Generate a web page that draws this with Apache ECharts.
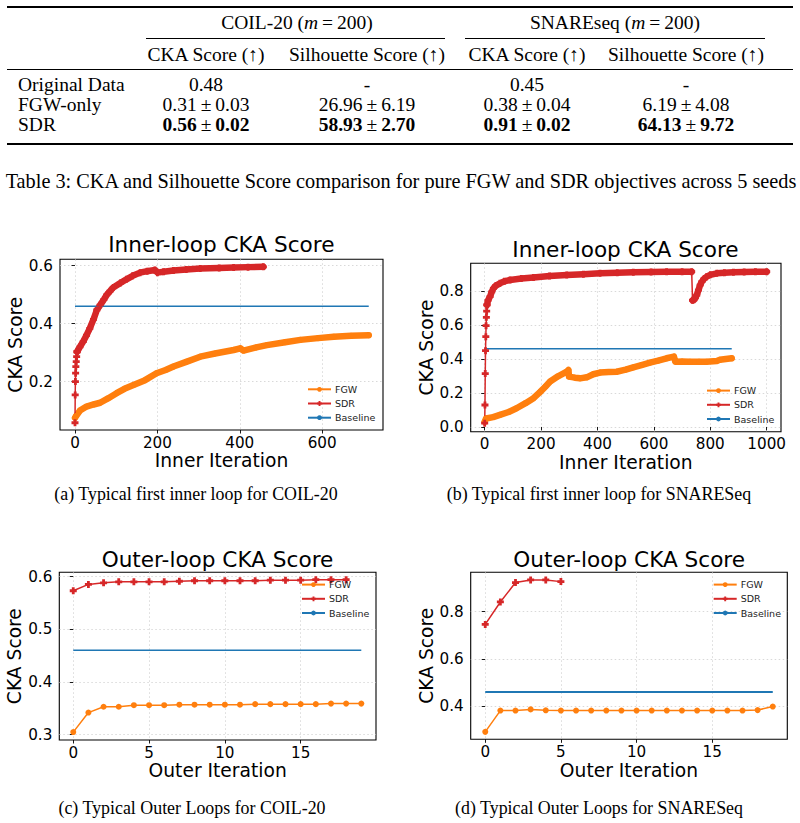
<!DOCTYPE html>
<html>
<head>
<meta charset="utf-8">
<script src="https://cdn.jsdelivr.net/npm/echarts@6/dist/echarts.min.js"></script>
<style>
body { margin: 0; background: #fff; }
#main { position: absolute; left: 0; top: 0; width: 800px; height: 823px; }
.t { position: absolute; font-family: "Liberation Serif", serif; font-size: 19.5px; color: #000;
     white-space: nowrap; line-height: 1; transform: translate(-50%, -50%); }
.l { position: absolute; font-family: "Liberation Serif", serif; font-size: 19.5px; color: #000;
     white-space: nowrap; line-height: 1; transform: translate(0, -50%); }
.pm { padding: 0 4px; font-weight: normal; }
.rule { position: absolute; background: #000; }
</style>
</head>
<body>
<div id="main"></div>
<div id="tbl"></div>
<script>
// ---- table 3 values ----
var rowNames = ['Original Data', 'FGW-only', 'SDR'];
var coilCkaMean = [0.48, 0.31, 0.56];
var coilCkaStd = [null, 0.03, 0.02];
var coilSilMean = [null, 26.96, 58.93];
var coilSilStd = [null, 6.19, 2.70];
var snareCkaMean = [0.45, 0.38, 0.91];
var snareCkaStd = [null, 0.04, 0.02];
var snareSilMean = [null, 6.19, 64.13];
var snareSilStd = [null, 4.08, 9.72];

// ---- (a) COIL-20 inner loop ----
var aFgwX = [0, 3, 12, 28, 45, 61, 80, 101, 120, 142, 170, 198, 220, 239, 270, 304, 340, 385, 401, 409, 440, 466, 510, 547, 590, 628, 670, 713];
var aFgwY = [0.075, 0.082, 0.100, 0.114, 0.121, 0.127, 0.142, 0.160, 0.175, 0.188, 0.205, 0.229, 0.240, 0.252, 0.268, 0.286, 0.297, 0.309, 0.315, 0.307, 0.318, 0.326, 0.336, 0.344, 0.350, 0.355, 0.358, 0.360];
var aSdrStartX = [0, 0.5, 1, 1.5, 2, 3, 4, 5];
var aSdrStartY = [0.058, 0.154, 0.200, 0.229, 0.252, 0.269, 0.286, 0.303];
var aSdrX = [5, 12, 20, 28, 36, 45, 53, 61, 70, 77, 85, 93, 110, 125, 140, 158, 175, 194, 200, 215, 239, 270, 304, 350, 385, 420, 457];
var aSdrY = [0.303, 0.320, 0.338, 0.360, 0.384, 0.415, 0.447, 0.464, 0.483, 0.499, 0.512, 0.525, 0.540, 0.553, 0.565, 0.576, 0.581, 0.585, 0.576, 0.579, 0.583, 0.587, 0.590, 0.592, 0.594, 0.595, 0.596];
var aBaseX = [0, 713];
var aBaseY = [0.46, 0.46];

// ---- (b) SNAREseq inner loop ----
var bFgwX = [0, 5, 30, 54, 85, 113, 145, 173, 196, 215, 232, 260, 291, 297, 299, 320, 338, 362, 385, 409, 440, 468, 500, 527, 556, 586, 615, 645, 671, 676, 700, 728, 760, 787, 823, 834, 855, 876];
var bFgwY = [0.030, 0.050, 0.058, 0.071, 0.088, 0.110, 0.140, 0.169, 0.205, 0.237, 0.267, 0.298, 0.325, 0.335, 0.296, 0.290, 0.286, 0.292, 0.310, 0.320, 0.323, 0.325, 0.337, 0.351, 0.364, 0.378, 0.390, 0.404, 0.414, 0.384, 0.385, 0.384, 0.384, 0.384, 0.388, 0.395, 0.400, 0.404];
var bSdrStartX = [0, 1, 2, 3, 4, 5, 6, 7, 8];
var bSdrStartY = [0.022, 0.129, 0.314, 0.449, 0.531, 0.596, 0.645, 0.682, 0.718];
var bSdrX = [8, 12, 19, 25, 31, 40, 54, 70, 90, 130, 173, 230, 291, 350, 409, 470, 527, 590, 645, 700, 734];
var bSdrY = [0.718, 0.745, 0.767, 0.795, 0.816, 0.832, 0.845, 0.857, 0.865, 0.873, 0.880, 0.888, 0.894, 0.899, 0.904, 0.907, 0.910, 0.912, 0.914, 0.914, 0.914];
var bSdrDropX = [734, 737];
var bSdrDropY = [0.914, 0.745];
var bSdrX2 = [737, 742, 747, 752, 758, 764, 770, 778, 787, 800, 823, 850, 882, 920, 960, 1000];
var bSdrY2 = [0.745, 0.748, 0.760, 0.776, 0.805, 0.835, 0.855, 0.872, 0.884, 0.895, 0.904, 0.908, 0.910, 0.912, 0.913, 0.914];
var bBaseX = [0, 876];
var bBaseY = [0.46, 0.46];

// ---- (c) COIL-20 outer loop ----
var cFgwX = [0, 1, 2, 3, 4, 5, 6, 7, 8, 9, 10, 11, 12, 13, 14, 15, 16, 17, 18, 19];
var cFgwY = [0.305, 0.342, 0.353, 0.353, 0.356, 0.356, 0.356, 0.357, 0.357, 0.357, 0.357, 0.357, 0.358, 0.358, 0.358, 0.358, 0.358, 0.359, 0.359, 0.359];
var cSdrX = [0, 1, 2, 3, 4, 5, 6, 7, 8, 9, 10, 11, 12, 13, 14, 15, 16, 17, 18];
var cSdrY = [0.573, 0.585, 0.588, 0.590, 0.590, 0.590, 0.590, 0.591, 0.592, 0.592, 0.592, 0.592, 0.592, 0.593, 0.593, 0.593, 0.594, 0.594, 0.594];
var cBaseX = [0, 19];
var cBaseY = [0.46, 0.46];

// ---- (d) SNAREseq outer loop ----
var dFgwX = [0, 1, 2, 3, 4, 5, 6, 7, 8, 9, 10, 11, 12, 13, 14, 15, 16, 17, 18, 19];
var dFgwY = [0.292, 0.382, 0.382, 0.387, 0.383, 0.382, 0.382, 0.382, 0.382, 0.382, 0.382, 0.382, 0.382, 0.382, 0.382, 0.382, 0.382, 0.382, 0.384, 0.399];
var dSdrX = [0, 1, 2, 3, 4, 5];
var dSdrY = [0.746, 0.841, 0.923, 0.934, 0.934, 0.927];
var dBaseX = [0, 19];
var dBaseY = [0.46, 0.46];

// ---- table (HTML) ----
var tbl = document.getElementById('tbl');
function put(cls, x, y, html, size) {
    var d = document.createElement('div');
    d.className = cls;
    d.style.left = x + 'px';
    d.style.top = y + 'px';
    if (size) d.style.fontSize = size + 'px';
    d.innerHTML = html;
    tbl.appendChild(d);
    return d;
}
function rule(x, y, w, h) {
    var d = document.createElement('div');
    d.className = 'rule';
    d.style.left = x + 'px'; d.style.top = y + 'px';
    d.style.width = w + 'px'; d.style.height = h + 'px';
    tbl.appendChild(d);
}
function cell(mean, std, bold) {
    if (mean === null) return '-';
    var m = mean.toFixed(2), s = std === null ? null : std.toFixed(2);
    if (bold) { m = '<b>' + m + '</b>'; if (s) s = '<b>' + s + '</b>'; }
    return s ? m + '<span class="pm">±</span>' + s : m;
}
rule(7, 6, 786, 1.5);
put('t', 297, 23, 'COIL-20 (<i>m</i><span class="pm">=</span>200)');
put('t', 615, 23, 'SNAREseq (<i>m</i><span class="pm">=</span>200)');
rule(146, 37.5, 299, 0.9);
rule(465, 37.5, 300, 0.9);
var colX = [206, 367, 527, 686];
var heads = ['CKA Score (↑)', 'Silhouette Score (↑)', 'CKA Score (↑)', 'Silhouette Score (↑)'];
heads.forEach(function (h, i) { put('t', colX[i], 55, h); });
rule(7, 68.5, 786, 1);
var rowY = [85, 105, 125];
var cols = [[coilCkaMean, coilCkaStd], [coilSilMean, coilSilStd], [snareCkaMean, snareCkaStd], [snareSilMean, snareSilStd]];
rowNames.forEach(function (r, i) {
    put('l', 18, rowY[i], r);
    cols.forEach(function (c, j) {
        put('t', colX[j], rowY[i], cell(c[0][i], c[1][i], i === 2));
    });
});
rule(7, 143, 786, 1.5);
put('t', 401, 181, 'Table 3: CKA and Silhouette Score comparison for pure FGW and SDR objectives across 5 seeds', 20.3);

// sub-figure captions (the reference text is a bit wider than plain Times, so stretch it)
var caps = [
    ['(a) Typical first inner loop for COIL-20', 196, 493],
    ['(b) Typical first inner loop for SNARESeq', 599, 493],
    ['(c) Typical Outer Loops for COIL-20', 192, 807],
    ['(d) Typical Outer Loops for SNARESeq', 599, 807]
];
var capEls = caps.map(function (c) { return put('t', c[1], c[2], c[0], 19); });
var capScale = 267 / capEls[2].getBoundingClientRect().width;
capEls.forEach(function (d) {
    d.style.transform = 'translate(-50%, -50%) scaleX(' + capScale.toFixed(3) + ')';
});

// ---- charts ----
var FGW_C = '#ff7f0e', SDR_C = '#d62728', BASE_C = '#1f77b4';
var PLUS = 'path://M3,0H7V3H10V7H7V10H3V7H0V3H3Z';
var FONT = 'DejaVu Sans';

function pts(xs, ys) {
    return xs.map(function (x, i) { return [x, ys[i]]; });
}
function thin(name, color, sym, size, k, xs, ys) {
    return {
        type: 'line', name: name, xAxisIndex: k, yAxisIndex: k,
        data: pts(xs, ys), symbol: sym, symbolSize: size, showSymbol: sym !== 'none',
        lineStyle: { width: 1.5, color: color }, itemStyle: { color: color },
        emphasis: { disabled: true }, animation: false
    };
}
function band(name, color, sym, size, k, xs, ys) {
    var s = thin(name, color, sym, size, k, xs, ys);
    s.lineStyle = { width: 6.5, color: color, cap: 'round', join: 'round' };
    return s;
}

var grids = [
    { left: 60, top: 259.3, width: 323, height: 170.7 },
    { left: 470.7, top: 263.3, width: 310.3, height: 168.4 },
    { left: 59.3, top: 572.3, width: 316.7, height: 167.7 },
    { left: 470.7, top: 572.3, width: 316.6, height: 167 }
];
var xRange = [[-36.4, 747.6], [-49.6, 1050.7], [-0.92, 19.97], [-0.96, 19.96]];
var yRange = [[0.033, 0.622], [-0.028, 0.963], [0.29, 0.608], [0.2606, 0.9664]];
var xTicks = [[0, 200, 400, 600], [0, 200, 400, 600, 800, 1000], [0, 5, 10, 15], [0, 5, 10, 15]];
var yTicks = [[0.2, 0.4, 0.6], [0.0, 0.2, 0.4, 0.6, 0.8], [0.3, 0.4, 0.5, 0.6], [0.4, 0.6, 0.8]];
var xNames = ['Inner Iteration', 'Inner Iteration', 'Outer Iteration', 'Outer Iteration'];
var xGap = [21.3, 20, 20, 21.4];
var yGap = [32.3, 31.9, 31.4, 32];

function axis(k, isX) {
    var ticks = isX ? xTicks[k] : yTicks[k];
    var r = isX ? xRange[k] : yRange[k];
    return {
        type: 'value', gridIndex: k, min: r[0], max: r[1],
        axisLine: { show: false },
        axisTick: { show: true, inside: false, length: 3.5, lineStyle: { color: '#000', width: 0.9 }, customValues: ticks },
        axisLabel: {
            customValues: ticks, margin: isX ? 5 : 7, fontSize: 15.2, color: '#000', fontFamily: FONT,
            formatter: function (v) { return isX ? String(Math.round(v)) : v.toFixed(1); }
        },
        splitLine: { show: true, lineStyle: { color: '#cfcfcf', type: [1.5, 2.5], width: 0.8 } },
        name: isX ? xNames[k] : 'CKA Score',
        nameLocation: 'middle', nameGap: isX ? xGap[k] : yGap[k], nameRotate: isX ? 0 : 90,
        nameTextStyle: { fontSize: 18.7, fontFamily: FONT, color: '#000' }
    };
}

var legendPos = [[307, 384.3], [706, 385.6], [301, 579.6], [712.7, 579.6]];
var legends = legendPos.map(function (p) {
    return {
        orient: 'vertical', left: p[0], top: p[1], padding: 0,
        itemWidth: 23, itemHeight: 6, itemGap: 4.2, selectedMode: false,
        data: ['FGW', 'SDR', 'Baseline'],
        textStyle: { fontSize: 9.5, fontFamily: FONT, color: '#222', padding: [0, 0, 0, -1] }
    };
});

var titles = [
    ['Inner-loop CKA Score', 221.3, 244.5],
    ['Inner-loop CKA Score', 625.5, 249.7],
    ['Outer-loop CKA Score', 217.5, 559],
    ['Outer-loop CKA Score', 629.2, 559.5]
];

var series = [
    // (c) first so the legend icons take the plain line + marker style
    thin('FGW', FGW_C, 'circle', 6, 2, cFgwX, cFgwY),
    thin('SDR', SDR_C, PLUS, 7, 2, cSdrX, cSdrY),
    thin('Baseline', BASE_C, 'none', 0, 2, cBaseX, cBaseY),
    // (d)
    thin('FGW', FGW_C, 'circle', 6, 3, dFgwX, dFgwY),
    thin('SDR', SDR_C, PLUS, 7, 3, dSdrX, dSdrY),
    thin('Baseline', BASE_C, 'none', 0, 3, dBaseX, dBaseY),
    // (a)
    band('FGW', FGW_C, 'circle', 6, 0, aFgwX, aFgwY),
    thin('SDR', SDR_C, PLUS, 7, 0, aSdrStartX, aSdrStartY),
    band('SDR', SDR_C, PLUS, 7, 0, aSdrX, aSdrY),
    thin('Baseline', BASE_C, 'none', 0, 0, aBaseX, aBaseY),
    // (b)
    band('FGW', FGW_C, 'circle', 6, 1, bFgwX, bFgwY),
    thin('SDR', SDR_C, PLUS, 7, 1, bSdrStartX, bSdrStartY),
    band('SDR', SDR_C, PLUS, 7, 1, bSdrX, bSdrY),
    thin('SDR', SDR_C, 'none', 0, 1, bSdrDropX, bSdrDropY),
    band('SDR', SDR_C, PLUS, 7, 1, bSdrX2, bSdrY2),
    thin('Baseline', BASE_C, 'none', 0, 1, bBaseX, bBaseY)
];
series[5].lineStyle.width = 2;

var myChart = echarts.init(document.getElementById('main'), null, { renderer: 'svg' });
var option = {
    animation: false,
    backgroundColor: '#fff',
    grid: grids.map(function (g) {
        return { left: g.left, top: g.top, width: g.width, height: g.height, show: true,
                 borderColor: '#000', borderWidth: 1.1, backgroundColor: 'transparent',
                 outerBoundsMode: 'none', containLabel: false };
    }),
    xAxis: [0, 1, 2, 3].map(function (k) { return axis(k, true); }),
    yAxis: [0, 1, 2, 3].map(function (k) { return axis(k, false); }),
    legend: legends,
    graphic: titles.map(function (t) {
        return { type: 'text', x: t[1], y: t[2], silent: true,
                 style: { text: t[0], fill: '#000', font: '21.6px "DejaVu Sans"', align: 'center', verticalAlign: 'middle' } };
    }),
    series: series
};
myChart.setOption(option);
</script>
</body>
</html>
